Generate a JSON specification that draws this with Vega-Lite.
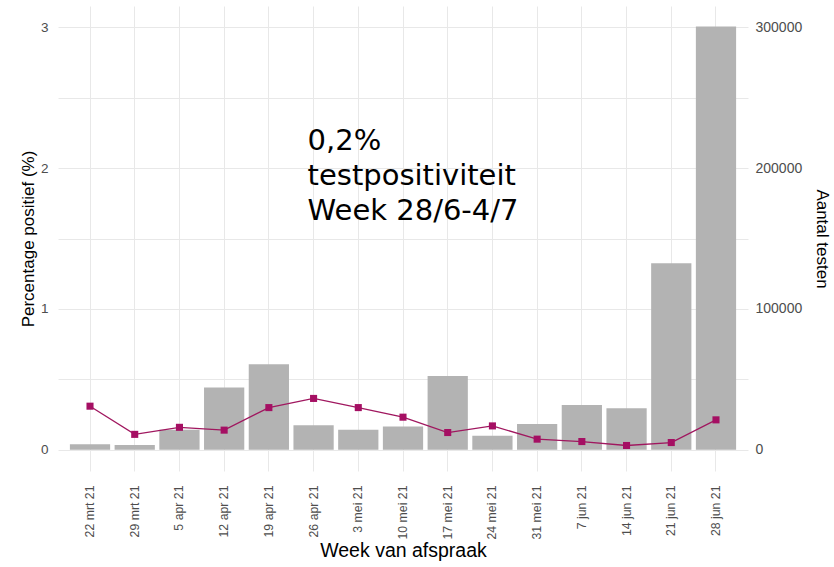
{
  "$schema": "https://vega.github.io/schema/vega-lite/v6.json",
  "width": 690,
  "height": 465,
  "autosize": {"type": "none"},
  "padding": {"left": 58, "top": 6, "right": 86, "bottom": 96},
  "background": "white",
  "config": {
    "view": {"stroke": null},
    "font": "Liberation Sans",
    "axis": {"domain": false, "ticks": false, "tickSize": 0, "labelColor": "#4d4d4d", "titleColor": "#000000", "titleFontWeight": "normal", "gridColor": "#e8e8e8", "gridWidth": 1}
  },
  "data": {
    "values": [
      {"wk": "22 mrt 21", "tests": 4000, "pct": 0.31},
      {"wk": "29 mrt 21", "tests": 3500, "pct": 0.11},
      {"wk": "5 apr 21", "tests": 14200, "pct": 0.16},
      {"wk": "12 apr 21", "tests": 44200, "pct": 0.14},
      {"wk": "19 apr 21", "tests": 60800, "pct": 0.3},
      {"wk": "26 apr 21", "tests": 17500, "pct": 0.365},
      {"wk": "3 mei 21", "tests": 14200, "pct": 0.3},
      {"wk": "10 mei 21", "tests": 16500, "pct": 0.232},
      {"wk": "17 mei 21", "tests": 52500, "pct": 0.123},
      {"wk": "24 mei 21", "tests": 10100, "pct": 0.17},
      {"wk": "31 mei 21", "tests": 18400, "pct": 0.076},
      {"wk": "7 jun 21", "tests": 31900, "pct": 0.059},
      {"wk": "14 jun 21", "tests": 29600, "pct": 0.031},
      {"wk": "21 jun 21", "tests": 132400, "pct": 0.052},
      {"wk": "28 jun 21", "tests": 300500, "pct": 0.213}
    ]
  },
  "encoding": {
    "x": {
      "field": "wk",
      "type": "nominal",
      "sort": null,
      "scale": {"paddingInner": 0.1, "paddingOuter": 0.266},
      "axis": {
        "title": "Week van afspraak",
        "titleFontSize": 19.5,
        "titlePadding": 2,
        "labelAngle": -90,
        "labelFontSize": 12.3,
        "labelPadding": 14,
        "grid": true,
        "bandPosition": 0.5
      }
    }
  },
  "layer": [
    {
      "mark": {"type": "bar", "color": "#b3b3b3"},
      "encoding": {
        "y": {
          "field": "tests",
          "type": "quantitative",
          "scale": {"domain": [-15000, 315000], "nice": false, "zero": false},
          "axis": {
            "orient": "right",
            "title": "Aantal testen",
            "titleFontSize": 17,
            "titlePadding": 11,
            "values": [0, 100000, 200000, 300000],
            "format": "d",
            "labelFontSize": 14,
            "labelPadding": 7,
            "grid": false
          }
        },
        "y2": {"datum": 0}
      }
    },
    {
      "encoding": {
        "y": {
          "field": "pct",
          "type": "quantitative",
          "scale": {"domain": [-0.15, 3.15], "nice": false, "zero": false},
          "axis": {
            "orient": "left",
            "title": "Percentage positief (%)",
            "titleFontSize": 17,
            "titlePadding": 3,
            "values": [0, 0.5, 1, 1.5, 2, 2.5, 3],
            "labelExpr": "datum.value % 1 === 0 ? format(datum.value, 'd') : ''",
            "labelFontSize": 13.5,
            "labelPadding": 10,
            "grid": true
          }
        }
      },
      "layer": [
        {"mark": {"type": "line", "color": "#a0175f", "strokeWidth": 1.3}},
        {"mark": {"type": "point", "shape": "square", "filled": true, "size": 50, "color": "#a50f63", "opacity": 1}},
        {
          "data": {"values": [{"wk": "26 apr 21", "pct": 2.13, "label": "0,2%\ntestpositiviteit\nWeek 28/6-4/7"}]},
          "mark": {"type": "text", "align": "left", "baseline": "alphabetic", "dx": -6, "font": "DejaVu Sans", "fontSize": 29, "lineHeight": 35, "lineBreak": "\n", "color": "#000000"},
          "encoding": {"text": {"field": "label"}}
        }
      ]
    }
  ],
  "resolve": {"scale": {"y": "independent"}}
}
